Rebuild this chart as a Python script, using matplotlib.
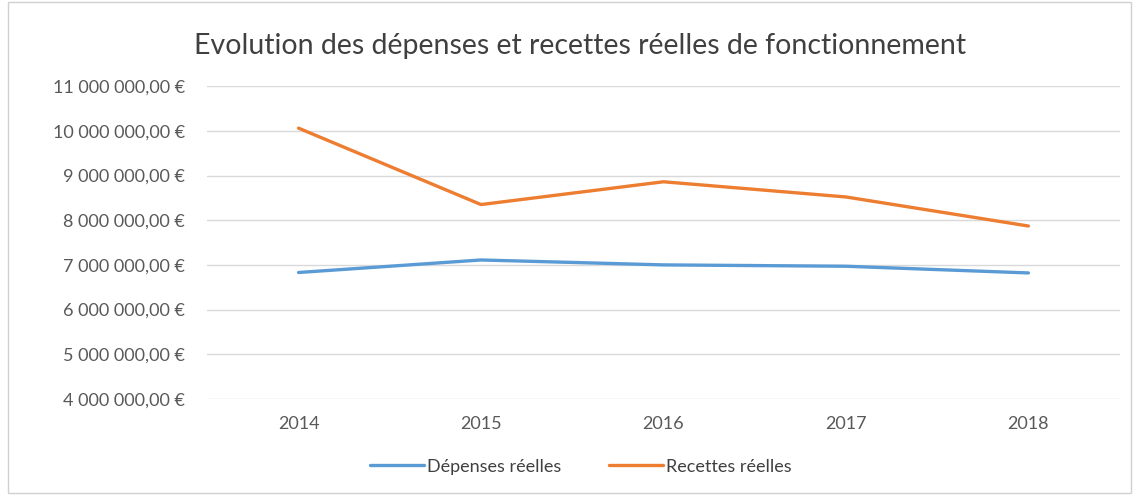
import matplotlib.pyplot as plt
from matplotlib.ticker import FuncFormatter
from matplotlib.patches import Rectangle

annees = ["2014", "2015", "2016", "2017", "2018"]
depenses = [6830000, 7110000, 7000000, 6970000, 6820000]
recettes = [10060000, 8350000, 8860000, 8520000, 7870000]

plt.rcParams['font.family'] = ['Lato', 'DejaVu Sans']

fig = plt.figure(figsize=(11.39, 4.95), dpi=100)
ax = fig.add_axes([0.182, 0.194, 0.801, 0.632])

x = range(len(annees))
ax.plot(x, depenses, color="#5B9BD5", lw=2.4, label="Dépenses réelles", solid_capstyle="round")
ax.plot(x, recettes, color="#ED7D31", lw=2.4, label="Recettes réelles", solid_capstyle="round")

ax.set_xlim(-0.5, len(annees) - 0.5)
ax.set_ylim(4000000, 11000000)
ax.set_yticks(range(4000000, 11000001, 1000000))
ax.set_xticks(list(x))
ax.set_xticklabels(annees)


def euro(v, pos):
    return f"{int(v):,}".replace(",", " ") + ",00 €"


ax.yaxis.set_major_formatter(FuncFormatter(euro))
ax.grid(axis="y", color="#D9D9D9", lw=1)
ax.set_axisbelow(True)
for s in ax.spines.values():
    s.set_visible(False)
ax.tick_params(axis="both", length=0, colors="#595959", labelsize=13)
ax.tick_params(axis="y", pad=16)
ax.tick_params(axis="x", pad=12)

fig.text(0.509, 0.908, "Evolution des dépenses et recettes réelles de fonctionnement",
         ha="center", va="center", fontsize=20.5, color="#404040")

fig.legend(loc="center", bbox_to_anchor=(0.51, 0.057), ncol=2, frameon=False,
           fontsize=13, handlelength=3.0, handletextpad=0.2, columnspacing=2.6,
           labelcolor="#404040")

fig.patches.append(Rectangle((0.007, 0.005), 0.986, 0.99, transform=fig.transFigure,
                             fill=False, edgecolor="#D0D0D0", lw=1))

fig.savefig("out.png", dpi=100)
